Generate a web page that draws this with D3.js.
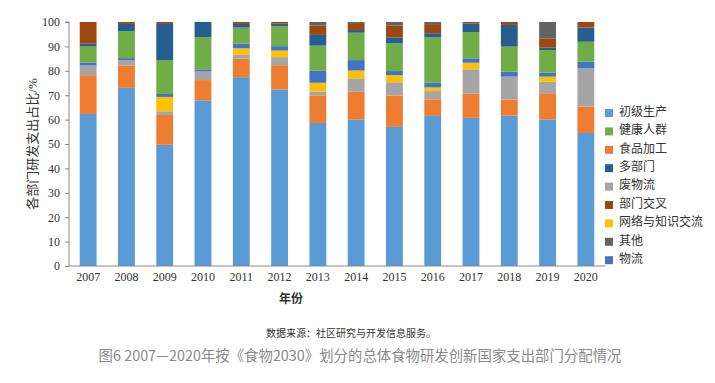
<!DOCTYPE html>
<html>
<head>
<meta charset="utf-8">
<script src="https://cdn.jsdelivr.net/npm/d3@7"></script>
<style>
  body { margin: 0; background: #fff; }
  svg text { font-family: "Liberation Serif", "Noto Sans CJK SC", serif; }
</style>
</head>
<body>
<script>
// years on the x axis
var years = ["2007","2008","2009","2010","2011","2012","2013","2014","2015","2016","2017","2018","2019","2020"];

// series values (%)
var chuji    = [62.3, 73.0, 49.7, 67.9, 77.4, 72.3, 58.6, 60.0, 57.0, 61.5, 60.7, 61.6, 60.0, 54.5];
var shipin   = [15.9,  9.2, 12.2,  8.3,  7.6, 10.0, 11.2, 11.4, 12.9,  6.8,  9.9,  6.6, 10.8, 10.8];
var feiwu    = [ 4.0,  2.2,  1.5,  3.5,  1.7,  3.3,  1.6,  5.5,  5.4,  3.4, 10.0,  9.4,  4.7, 15.7];
var wangluo  = [ 0.0,  0.0,  5.9,  0.0,  2.5,  2.7,  3.7,  3.2,  2.9,  1.5,  2.7,  0.0,  2.1,  0.0];
var wuliu    = [ 1.1,  0.8,  1.2,  0.9,  1.9,  1.8,  4.9,  4.3,  1.7,  1.9,  1.8,  2.0,  1.6,  2.7];
var jiankang = [ 6.8, 11.0, 13.9, 13.2,  6.6,  8.2, 10.3, 11.2, 11.4, 18.6, 10.8, 10.3,  9.3,  8.2];
var duobumen = [ 1.0,  3.0, 14.8,  6.2,  1.5,  1.0,  4.4,  1.1,  2.4,  1.7,  3.5,  8.9,  1.0,  5.8];
var jiaocha  = [ 8.9,  0.8,  0.8,  0.0,  0.8,  0.7,  3.8,  2.5,  4.8,  3.4,  0.6,  1.2,  3.8,  2.3];
var qita     = [ 0.0,  0.0,  0.0,  0.0,  0.0,  0.0,  1.5,  0.8,  1.5,  1.2,  0.0,  0.0,  6.7,  0.0];

var yTicks = [0, 10, 20, 30, 40, 50, 60, 70, 80, 90, 100];

// stacking order (bottom to top) and legend order differ
var series = [
  {key: "chuji",    name: "初级生产",       color: "#5b9bd5", values: chuji},
  {key: "shipin",   name: "食品加工",       color: "#ed7d31", values: shipin},
  {key: "feiwu",    name: "废物流",         color: "#a5a5a5", values: feiwu},
  {key: "wangluo",  name: "网络与知识交流", color: "#ffc000", values: wangluo},
  {key: "wuliu",    name: "物流",           color: "#4472c4", values: wuliu},
  {key: "jiankang", name: "健康人群",       color: "#70ad47", values: jiankang},
  {key: "duobumen", name: "多部门",         color: "#255e91", values: duobumen},
  {key: "jiaocha",  name: "部门交叉",       color: "#9e480e", values: jiaocha},
  {key: "qita",     name: "其他",           color: "#636363", values: qita}
];
var legendOrder = ["chuji","jiankang","shipin","duobumen","feiwu","jiaocha","wangluo","qita","wuliu"];

var W = 715, H = 383;
var margin = {left: 69, right: 110, top: 22, bottom: 117};

var svg = d3.select("body").append("svg")
    .attr("width", W)
    .attr("height", H);

// build rows for d3.stack
var rows = years.map(function(y, i) {
  var r = {year: y};
  series.forEach(function(s) { r[s.key] = s.values[i]; });
  return r;
});

var stack = d3.stack().keys(series.map(function(s) { return s.key; }));
var stacked = stack(rows);

var x = d3.scaleBand()
    .domain(years)
    .range([margin.left, W - margin.right])
    .paddingInner(0.56)
    .paddingOuter(0.28);

var y = d3.scaleLinear()
    .domain([0, 100])
    .range([H - margin.bottom, margin.top]);

var colorOf = {};
series.forEach(function(s) { colorOf[s.key] = s.color; });

svg.append("g")
  .selectAll("g")
  .data(stacked)
  .enter().append("g")
    .attr("fill", function(d) { return colorOf[d.key]; })
  .selectAll("rect")
  .data(function(d) { return d; })
  .enter().append("rect")
    .attr("x", function(d) { return x(d.data.year); })
    .attr("width", x.bandwidth())
    .attr("y", function(d) { return y(d[1]); })
    .attr("height", function(d) { return y(d[0]) - y(d[1]); });

// y axis
var yAxis = svg.append("g")
    .attr("transform", "translate(" + margin.left + ",0)")
    .call(d3.axisLeft(y).tickValues(yTicks).tickSize(4).tickPadding(5));
yAxis.select(".domain").attr("stroke", "#888").attr("d", "M-4," + y(100) + "H0V" + y(0));
yAxis.selectAll(".tick line").attr("stroke", "#888");
yAxis.selectAll("text").attr("fill", "#333").style("font-size", "12px");

// x axis
var xAxis = svg.append("g")
    .attr("transform", "translate(0," + (H - margin.bottom) + ")")
    .call(d3.axisBottom(x).tickSize(0).tickPadding(6));
xAxis.select(".domain").attr("stroke", "#888").attr("d", "M" + margin.left + ",0H" + (W - margin.right));
xAxis.selectAll("text").attr("fill", "#333").style("font-size", "12px");

// axis titles
svg.append("text")
    .attr("transform", "translate(34," + ((y(0) + y(100)) / 2) + ") rotate(-90)")
    .attr("text-anchor", "middle")
    .attr("dominant-baseline", "middle")
    .attr("fill", "#333")
    .style("font-size", "13px")
    .text("各部门研发支出占比/%");

svg.append("text")
    .attr("x", 291)
    .attr("y", 303)
    .attr("text-anchor", "middle")
    .attr("fill", "#333")
    .style("font-size", "12px")
    .style("font-weight", "bold")
    .text("年份");

// legend
var legend = svg.append("g").selectAll("g")
    .data(legendOrder.map(function(k) { return series.find(function(s) { return s.key === k; }); }))
    .enter().append("g")
    .attr("transform", function(d, i) { return "translate(605," + (113 + i * 18.4) + ")"; });

legend.append("rect")
    .attr("x", 0).attr("y", -4)
    .attr("width", 8).attr("height", 8)
    .attr("fill", function(d) { return d.color; });

legend.append("text")
    .attr("x", 14)
    .attr("dominant-baseline", "middle")
    .attr("fill", "#333")
    .style("font-size", "12px")
    .text(function(d) { return d.name; });

// source and caption
svg.append("text")
    .attr("x", 351)
    .attr("y", 337)
    .attr("text-anchor", "middle")
    .attr("fill", "#333")
    .style("font-size", "10px")
    .text("数据来源：社区研究与开发信息服务。");

svg.append("text")
    .attr("x", 360)
    .attr("y", 361)
    .attr("text-anchor", "middle")
    .attr("fill", "#8a8a8a")
    .style("font-family", "'Noto Sans CJK SC', sans-serif")
    .style("font-size", "14.4px")
    .text("图6 2007—2020年按《食物2030》划分的总体食物研发创新国家支出部门分配情况");
</script>
</body>
</html>
